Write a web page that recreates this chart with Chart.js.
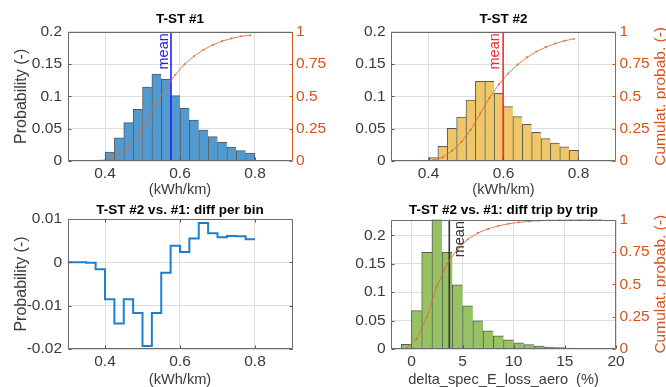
<!DOCTYPE html>
<html><head><meta charset="utf-8">
<script src="https://cdn.jsdelivr.net/npm/chart.js@4/dist/chart.umd.min.js"></script>
<style>
html,body{margin:0;padding:0;background:#fff;width:666px;height:387px;overflow:hidden;}
canvas{position:absolute;}
</style></head><body>
<canvas id="c1" width="333" height="200" style="left:0;top:0"></canvas>
<canvas id="c2" width="333" height="200" style="left:333px;top:0"></canvas>
<canvas id="c3" width="333" height="195" style="left:0;top:195px"></canvas>
<canvas id="c4" width="333" height="195" style="left:333px;top:195px"></canvas>
<script>
// ---------- data ----------
const binCentersKWh = [0.3125,0.3375,0.3625,0.3875,0.4125,0.4375,0.4625,0.4875,0.5125,0.5375,0.5625,0.5875,0.6125,0.6375,0.6625,0.6875,0.7125,0.7375,0.7625,0.7875];
const probTST1 = [0,0,0,0.0016,0.0139,0.036,0.0593,0.080,0.1145,0.1346,0.1263,0.101,0.0815,0.0634,0.048,0.0376,0.0289,0.0217,0.016,0.0124];
const cumTST1  = [0,0,0,0.002,0.016,0.052,0.111,0.191,0.305,0.440,0.566,0.667,0.749,0.812,0.860,0.898,0.927,0.948,0.964,0.972];
const probTST2 = [0,0,0,0,0.0052,0.0227,0.0505,0.068,0.0944,0.1232,0.1232,0.1047,0.084,0.0686,0.0567,0.0444,0.0345,0.0278,0.0221,0.0165];
const cumTST2  = [0,0,0,0,0.005,0.028,0.078,0.146,0.241,0.364,0.487,0.592,0.676,0.745,0.801,0.846,0.880,0.908,0.930,0.945];
const meanTST1 = 0.576;
const meanTST2 = 0.599;

const binEdgesKWh = [0.3,0.325,0.35,0.375,0.4,0.425,0.45,0.475,0.5,0.525,0.55,0.575,0.6,0.625,0.65,0.675,0.7,0.725,0.75,0.775,0.8];
const diffPerBin  = [0,0,-0.0001,-0.0016,-0.0085,-0.0141,-0.0085,-0.0117,-0.0193,-0.0117,-0.0024,0.0038,0.0024,0.0055,0.0091,0.0067,0.0058,0.0061,0.0060,0.0053,0.0053];

const binCentersPct = [-0.5,0.5,1.5,2.5,3.5,4.5,5.5,6.5,7.5,8.5,9.5,10.5,11.5,12.5,13.5,14.5,15.5,16.5,17.5,18.5];
const probDiffTrip  = [0.0083,0.0677,0.170,0.242,0.170,0.113,0.076,0.0495,0.0318,0.023,0.016,0.011,0.0077,0.0053,0.0035,0.0024,0.0015,0.001,0.0006,0.0003];
const cumDiffTrip   = [0.008,0.076,0.246,0.488,0.658,0.771,0.847,0.896,0.928,0.951,0.967,0.978,0.986,0.991,0.995,0.997,0.999,0.9995,1.0,1.0];
const meanDiffTrip  = 3.7;

const xTicksKWh  = [0.4,0.6,0.8];
const xTicksPct  = [0,5,10,15,20];
const yTicksProb = [0,0.05,0.1,0.15,0.2];
const yTicksCum  = [0,0.25,0.5,0.75,1];
const yTicksDiff = [-0.02,-0.01,0,0.01];

const titles = ['T-ST #1','T-ST #2','T-ST #2 vs. #1: diff per bin','T-ST #2 vs. #1: diff trip by trip'];
const xLabelKWh = '(kWh/km)';
const xLabelPct = 'delta_spec_E_loss_aero  (%)';
const yLabelProb = 'Probability (-)';
const yLabelCum = 'Cumulat. probab. (-)';

// ---------- styling ----------
const FONT = '"Liberation Sans", Arial, Helvetica, sans-serif';
Chart.defaults.font.family = FONT;
Chart.defaults.color = '#333';
const ORANGE = '#D95319';
const CDF_COL = 'rgba(226,105,55,0.85)';
const GRID = '#dedede';
const TXT = '#3a3a3a';
const TICK_SIZE = 15.5;

const fmt = v => String(Math.round(v * 10000) / 10000);
const fixedTicks = list => s => { s.ticks = list.map(v => ({value: v})); };
const pairs = (xs, ys) => xs.map((x, i) => ({x, y: ys[i]})).filter(p => p.y !== undefined);
const barPairs = (xs, ys) => pairs(xs, ys).filter(p => p.y > 0);

function xAxis(min, max, ticks, label, h) {
  return {
    type: 'linear', min, max, offset: false,
    afterBuildTicks: fixedTicks(ticks),
    afterFit: s => { s.height = h; },
    grid: {color: GRID, drawTicks: false, offset: false}, border: {display: false},
    ticks: {padding: 3.2, font: {size: TICK_SIZE}, color: TXT, callback: fmt, maxRotation: 0, autoSkip: false},
    title: {display: true, text: label, font: {size: 14.6}, color: TXT, padding: {top: 0, bottom: 1.4}}
  };
}
function yLeft(min, max, ticks, w, label) {
  return {
    type: 'linear', position: 'left', min, max,
    afterBuildTicks: fixedTicks(ticks),
    afterFit: s => { s.width = w; },
    grid: {color: GRID, drawTicks: false}, border: {display: false},
    ticks: {padding: 5.5, font: {size: TICK_SIZE}, color: TXT, callback: fmt, autoSkip: false},
    title: {display: !!label, text: label || '', font: {size: 16}, color: TXT, padding: {top: 12.4, bottom: 0}}
  };
}
function yRight(w) {
  return {
    type: 'linear', position: 'right', min: 0, max: 1,
    afterBuildTicks: fixedTicks(yTicksCum),
    afterFit: s => { s.width = w; },
    grid: {display: false, drawTicks: false}, border: {display: false},
    ticks: {padding: 3.5, font: {size: TICK_SIZE}, color: ORANGE, callback: fmt, autoSkip: false}
  };
}

function extras(o) {
  return {
    id: 'extras',
    afterDatasetsDraw(chart) {
      const {ctx, chartArea: a} = chart;
      if (o.mean !== undefined) {
        const x = chart.scales.x.getPixelForValue(o.mean);
        ctx.save();
        ctx.translate(x + o.meanOffset, a.top + 1.5);
        ctx.rotate(-Math.PI / 2);
        ctx.font = '14.5px ' + FONT;
        ctx.fillStyle = o.meanColor;
        ctx.textAlign = 'right';
        ctx.textBaseline = 'middle';
        ctx.fillText('mean', 0, 0);
        ctx.restore();
      }
    },
    afterDraw(chart) {
      const {ctx, chartArea: a} = chart;
      const L = Math.round(a.left) + 0.5, R = Math.round(a.right) - 0.5;
      const T = Math.round(a.top) + 0.5, B = Math.round(a.bottom) - 0.5;
      ctx.save();
      ctx.lineWidth = 1;
      // inward tick marks
      ctx.strokeStyle = '#555';
      chart.scales.x.ticks.forEach(t => {
        const px = Math.round(chart.scales.x.getPixelForValue(t.value)) + 0.5;
        ctx.beginPath(); ctx.moveTo(px, B); ctx.lineTo(px, B - 3); ctx.stroke();
        if (!o.right) { ctx.beginPath(); ctx.moveTo(px, T); ctx.lineTo(px, T + 3); ctx.stroke(); }
      });
      chart.scales.y.ticks.forEach(t => {
        const py = Math.round(chart.scales.y.getPixelForValue(t.value)) + 0.5;
        ctx.beginPath(); ctx.moveTo(L, py); ctx.lineTo(L + 3, py); ctx.stroke();
        if (!o.right) { ctx.beginPath(); ctx.moveTo(R, py); ctx.lineTo(R - 3, py); ctx.stroke(); }
      });
      if (o.right) {
        ctx.strokeStyle = ORANGE;
        chart.scales.y2.ticks.forEach(t => {
          const py = Math.round(chart.scales.y2.getPixelForValue(t.value)) + 0.5;
          ctx.beginPath(); ctx.moveTo(R, py); ctx.lineTo(R - 3, py); ctx.stroke();
        });
      }
      // box
      ctx.strokeStyle = '#6a6a6a';
      ctx.beginPath();
      ctx.moveTo(R, T); ctx.lineTo(L, T); ctx.lineTo(L, B); ctx.lineTo(R, B);
      if (!o.right) ctx.lineTo(R, T);
      ctx.stroke();
      if (o.right) {
        ctx.strokeStyle = ORANGE;
        ctx.beginPath(); ctx.moveTo(R, T); ctx.lineTo(R, B); ctx.stroke();
      }
      // title
      ctx.font = 'bold 13.5px ' + FONT;
      ctx.fillStyle = '#000';
      ctx.textAlign = 'center';
      ctx.textBaseline = 'middle';
      ctx.fillText(o.title, (a.left + a.right) / 2, o.titleY);
      // right axis label (reads bottom to top)
      if (o.rightLabel) {
        ctx.translate(o.rightLabelX, (a.top + a.bottom) / 2);
        ctx.rotate(-Math.PI / 2);
        ctx.font = '15.5px ' + FONT;
        ctx.fillStyle = ORANGE;
        ctx.fillText(o.rightLabel, 0, 0);
      }
      ctx.restore();
    }
  };
}

const common = {
  responsive: false, animation: false, events: [],
  plugins: {legend: {display: false}, tooltip: {enabled: false}, title: {display: false}}
};

function histChart(id, centers, probs, cums, mean, barColor, meanColor, xMin, xMax, xTicks, yMax, xLabel,
                   leftW, rightW, leftLabel, rightLabel, padTop, xH, titleY, title, meanOffset, meanTop) {
  return new Chart(document.getElementById(id), {
    type: 'bar',
    data: {
      datasets: [
        {type: 'line', data: pairs(centers, cums), yAxisID: 'y2', borderColor: CDF_COL, backgroundColor: CDF_COL,
         borderWidth: 1, pointRadius: 1.1, pointBorderWidth: 0, tension: 0, order: 1},
        {type: 'line', data: [{x: mean, y: 0}, {x: mean, y: meanTop}], yAxisID: 'y', borderColor: meanColor,
         borderWidth: 1.6, pointRadius: 0, order: 2},
        {type: 'bar', data: barPairs(centers, probs), yAxisID: 'y', backgroundColor: barColor,
         borderColor: 'rgba(35,35,35,0.75)', borderSkipped: 'start',
         borderWidth: c => ({top: 1, left: 1, bottom: 0, right: c.dataIndex === c.dataset.data.length - 1 ? 1 : 0}),
         barPercentage: 1, categoryPercentage: 1, order: 3}
      ]
    },
    options: Object.assign({}, common, {
      layout: {padding: {top: padTop, left: 0, right: 0, bottom: 0}},
      scales: {
        x: xAxis(xMin, xMax, xTicks, xLabel, xH),
        y: yLeft(0, yMax, yTicksProb, leftW, leftLabel),
        y2: yRight(rightW)
      }
    }),
    plugins: [extras({title, titleY, right: true, rightLabel, rightLabelX: 328, mean, meanColor, meanOffset})]
  });
}

histChart('c1', binCentersKWh, probTST1, cumTST1, meanTST1, 'rgb(80,154,208)', '#2020ff',
  0.3, 0.9, xTicksKWh, 0.2, xLabelKWh, 67.5, 40.5, yLabelProb, null, 31.7, 39, 19, titles[0], -7.5, 0.2);
histChart('c2', binCentersKWh, probTST2, cumTST2, meanTST2, 'rgb(239,199,104)', '#ff2a2a',
  0.3, 0.9, xTicksKWh, 0.2, xLabelKWh, 58, 50, null, yLabelCum, 31.7, 39, 19, titles[1], -8, 0.2);
histChart('c4', binCentersPct, probDiffTrip, cumDiffTrip, meanDiffTrip, 'rgb(150,194,100)', '#333333',
  -2, 20, xTicksPct, 0.228, xLabelPct, 58, 50, null, yLabelCum, 24.5, 41, 15, titles[3], 10.5, 0.228);

new Chart(document.getElementById('c3'), {
  type: 'line',
  data: {
    datasets: [{data: pairs(binEdgesKWh, diffPerBin), borderColor: '#1f7fcf', borderWidth: 2,
      pointRadius: 0, stepped: 'before', tension: 0}]
  },
  options: Object.assign({}, common, {
    layout: {padding: {top: 24, left: 0, right: 40.5, bottom: 0}},
    scales: {
      x: xAxis(0.3, 0.9, xTicksKWh, xLabelKWh, 41),
      y: yLeft(-0.02, 0.01, yTicksDiff, 67.5, yLabelProb)
    }
  }),
  plugins: [extras({title: titles[2], titleY: 15, right: false})]
});
</script>
</body></html>
